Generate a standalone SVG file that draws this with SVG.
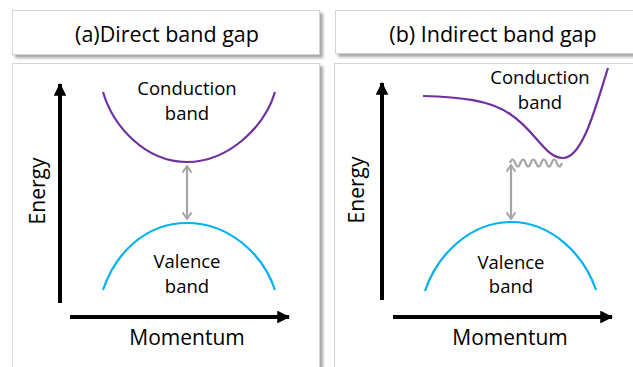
<svg xmlns="http://www.w3.org/2000/svg" width="633" height="367" viewBox="0 0 633 367">
<style>
text{font-family:"Open Sans","Liberation Sans",sans-serif;fill:#000}
.title{font-size:21.5px;text-anchor:middle}
.lbl{font-size:18.5px;text-anchor:middle}
.ax{font-size:21px;text-anchor:middle}
.box{fill:#fff;stroke:#d4d4d4;stroke-width:1}
.axis{stroke:#000;stroke-width:4;fill:none}
.cb{stroke:#7030A0;stroke-width:2.2;fill:none}
.vb{stroke:#00B0F0;stroke-width:2.2;fill:none}
.gap{stroke:#A6A6A6;stroke-width:2.2;fill:none}
</style>
<defs>
<filter id="sh" x="-5%" y="-5%" width="115%" height="130%">
<feDropShadow dx="3" dy="3" stdDeviation="1.5" flood-color="#000" flood-opacity="0.35"/>
</filter>
<marker id="ah" viewBox="0 0 12 12" refX="11" refY="6" markerWidth="3.2" markerHeight="3.2" orient="auto-start-reverse" markerUnits="strokeWidth">
<path d="M0,0 L12,6 L0,12 z" fill="#000"/>
</marker>
<marker id="gh" viewBox="0 0 10 12" refX="9" refY="6" markerWidth="4" markerHeight="4.8" orient="auto-start-reverse" markerUnits="strokeWidth">
<path d="M1.5,1 L9,6 L1.5,11" fill="none" stroke="#A6A6A6" stroke-width="2.2" stroke-linejoin="miter"/>
</marker>
</defs>
<rect width="633" height="367" fill="#fff"/>

<g id="title-a">
<rect class="box" x="12.5" y="10.5" width="307" height="44" filter="url(#sh)"/>
<text class="title" x="167" y="42">(a)Direct band gap</text>
</g>
<g id="title-b">
<rect class="box" x="335.5" y="10.5" width="310" height="43" filter="url(#sh)"/>
<text class="title" x="493" y="42">(b) Indirect band gap</text>
</g>

<g id="panel-a">
<rect class="box" x="12.5" y="63.5" width="307" height="320" filter="url(#sh)"/>
</g>
<g id="panel-b">
<rect class="box" x="334.5" y="63.5" width="310" height="320"/>
</g>

<g id="axes">
<line class="axis" x1="60" y1="303" x2="60" y2="84" marker-end="url(#ah)"/>
<line class="axis" x1="70" y1="317" x2="289" y2="317" marker-end="url(#ah)"/>
<line class="axis" x1="382" y1="300" x2="382" y2="83" marker-end="url(#ah)"/>
<line class="axis" x1="393" y1="317" x2="612" y2="317" marker-end="url(#ah)"/>
<text class="ax" transform="translate(45,191) rotate(-90)">Energy</text>
<text class="ax" x="187" y="345">Momentum</text>
<text class="ax" transform="translate(364,190) rotate(-90)">Energy</text>
<text class="ax" x="510" y="345">Momentum</text>
</g>

<g id="conduction-a">
<path class="cb" d="M103,92 C113,126 145,162 187,162 C229,162 265,126 275,92"/>
<text class="lbl" x="187" y="95">Conduction</text>
<text class="lbl" x="187" y="120">band</text>
</g>
<g id="valence-a">
<path class="vb" d="M103,290 C115,254 145,223 187,223 C229,223 263,254 275,290"/>
<text class="lbl" x="187" y="268">Valence</text>
<text class="lbl" x="187" y="293">band</text>
</g>

<g id="conduction-b">
<path class="cb" d="M423,96 C460,97 490,100 510,114 C535,130 545,158 563,158 C583,158 596,105 608,68"/>
<text class="lbl" x="540" y="84">Conduction</text>
<text class="lbl" x="540" y="109">band</text>
</g>
<g id="valence-b">
<path class="vb" d="M425,291 C437,255 470,222 511,222 C552,222 584,255 596,290"/>
<text class="lbl" x="511" y="269">Valence</text>
<text class="lbl" x="511" y="293">band</text>
</g>

<g id="connectors">
<line class="gap" x1="187" y1="166" x2="187" y2="219" marker-start="url(#gh)" marker-end="url(#gh)"/>
<line class="gap" x1="511" y1="165" x2="511" y2="219" marker-start="url(#gh)" marker-end="url(#gh)"/>
<path class="gap" d="M510,163 q2.6,-7 5.2,0 t5.2,0 t5.2,0 t5.2,0 t5.2,0 t5.2,0 t5.2,0 t5.2,0 t5.2,0 t5.2,0"/>
</g>
</svg>
